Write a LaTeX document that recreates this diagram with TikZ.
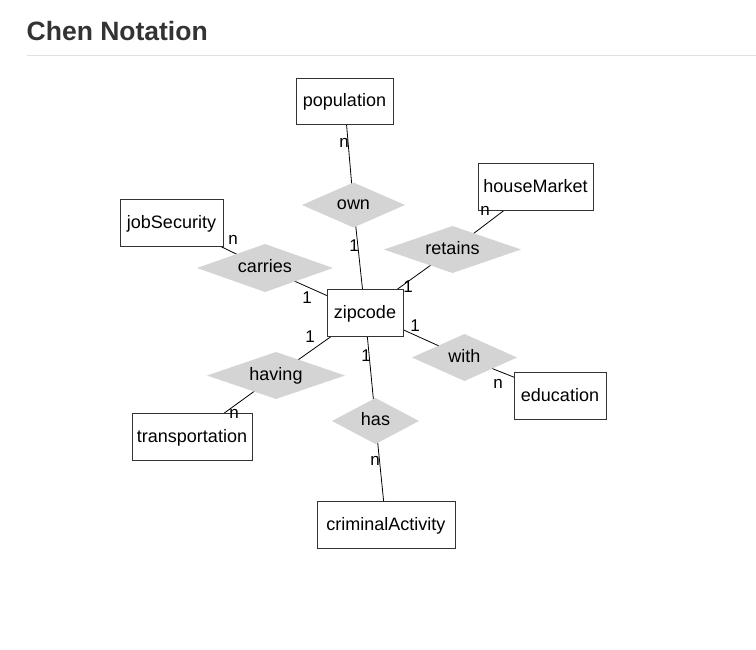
\documentclass[tikz,border=0pt]{standalone}
\usepackage{fontspec}
\setmainfont{Liberation Sans}
\begin{document}
\begin{tikzpicture}[x=1pt,y=-1pt,
  ent/.style={draw=black!80, fill=white, line width=0.9pt, inner sep=0pt, text height=14.6pt, text depth=3pt, font=\fontsize{18}{20}\selectfont},
  reltext/.style={inner sep=0pt, text height=9pt, text depth=0pt, font=\fontsize{18}{20}\selectfont},
  relfill/.style={fill=black!17},
  conn/.style={draw=black, line width=0.8pt},
  card/.style={inner sep=0pt, font=\fontsize{17}{18}\selectfont}]
\useasboundingbox (0,0) rectangle (756,649);
% title
\node[anchor=base west, inner sep=0pt, text=black!80, font=\fontsize{26.5}{28}\selectfont\bfseries] (title) at (26.5,40.5) {Chen Notation};
\coordinate (ruleL) at (27,55);
\coordinate (ruleR) at (756,55);
\draw[black!12, line width=0.8pt] (ruleL) -- (ruleR);
% centres
\coordinate (zip) at (365,312.5);
\coordinate (pop) at (344.5,101);
\coordinate (job) at (171.5,222.5);
\coordinate (house) at (535.5,186.5);
\coordinate (edu) at (560,395.5);
\coordinate (trans) at (192,436.5);
\coordinate (crime) at (386,524.5);
\coordinate (own) at (353.5,205);
\coordinate (carries) at (265,268);
\coordinate (retains) at (452.5,249.5);
\coordinate (with) at (464.5,357.5);
\coordinate (having) at (276,375.5);
\coordinate (has) at (375.5,421);
% connectors
\draw[conn] (pop) -- (own) -- (zip);
\draw[conn] (job) -- (carries) -- (zip);
\draw[conn] (house) -- (retains) -- (zip);
\draw[conn] (edu) -- (with) -- (zip);
\draw[conn] (trans) -- (having) -- (zip);
\draw[conn] (crime) -- (has) -- (zip);
% relationships
\fill[relfill] (own) +(-51.5,0) -- +(0,-22.5) -- +(51.5,0) -- +(0,22.5) -- cycle;
\fill[relfill] (carries) +(-68,0) -- +(0,-24) -- +(68,0) -- +(0,24) -- cycle;
\fill[relfill] (retains) +(-68.5,0) -- +(0,-23.5) -- +(68.5,0) -- +(0,23.5) -- cycle;
\fill[relfill] (with) +(-52.5,0) -- +(0,-23.5) -- +(52.5,0) -- +(0,23.5) -- cycle;
\fill[relfill] (having) +(-69,0) -- +(0,-23.5) -- +(69,0) -- +(0,23.5) -- cycle;
\fill[relfill] (has) +(-43.5,0) -- +(0,-23) -- +(43.5,0) -- +(0,23) -- cycle;
\node[reltext] (ownT) at (own) {own};
\node[reltext] (carriesT) at (carries) {carries};
\node[reltext] (retainsT) at (retains) {retains};
\node[reltext] (withT) at (with) {with};
\node[reltext] (havingT) at (having) {having};
\node[reltext] (hasT) at (has) {has};
% entities
\node[ent, minimum width=76, minimum height=47] (zipN) at (zip) {zipcode};
\node[ent, minimum width=97, minimum height=46] (popN) at (pop) {population};
\node[ent, minimum width=103, minimum height=47] (jobN) at (job) {jobSecurity};
\node[ent, minimum width=115, minimum height=47] (houseN) at (house) {houseMarket};
\node[ent, minimum width=92, minimum height=47] (eduN) at (edu) {education};
\node[ent, minimum width=120, minimum height=47] (transN) at (trans) {transportation};
\node[ent, minimum width=138, minimum height=47] (crimeN) at (crime) {criminalActivity};
% cardinalities
\node[card] (c1) at (344,143) {n};
\node[card] (c2) at (354,246) {1};
\node[card] (c3) at (233,240) {n};
\node[card] (c4) at (307,298) {1};
\node[card] (c5) at (485,211) {n};
\node[card] (c6) at (408,287) {1};
\node[card] (c7) at (415,326) {1};
\node[card] (c8) at (498,384) {n};
\node[card] (c9) at (310,337) {1};
\node[card] (c10) at (234,414) {n};
\node[card] (c11) at (366,356) {1};
\node[card] (c12) at (375,461) {n};
\end{tikzpicture}
\end{document}
